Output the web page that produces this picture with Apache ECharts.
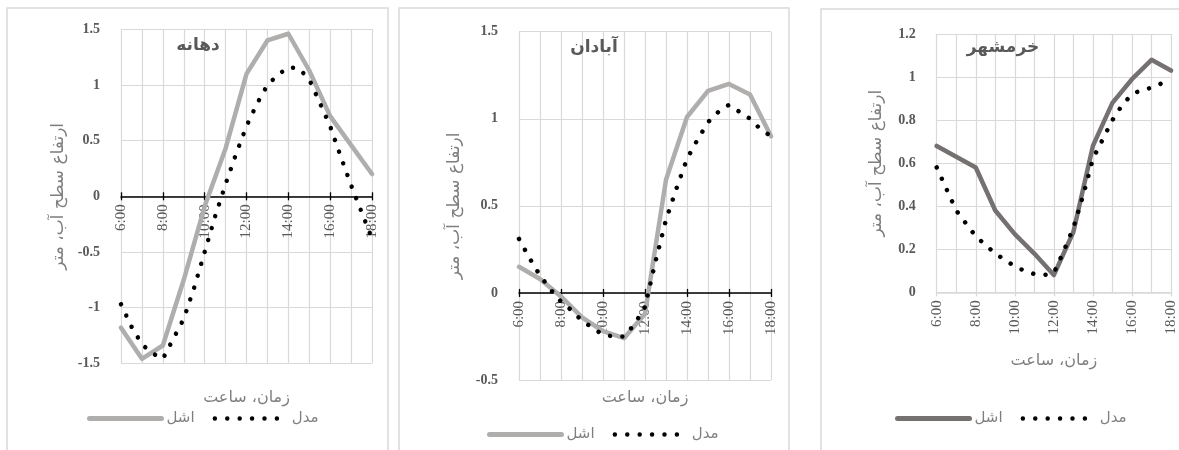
<!DOCTYPE html>
<html>
<head>
<meta charset="utf-8">
<script src="https://cdn.jsdelivr.net/npm/echarts@6/dist/echarts.min.js"></script>
<style>
  html, body { margin: 0; padding: 0; background: #fff; overflow: hidden; }
  #chart { width: 1179px; height: 450px; }
</style>
</head>
<body>
<div id="chart"></div>
<script>
// Hours of the day (gauge readings hourly, model output every half hour)
const obsHours = [6, 7, 8, 9, 10, 11, 12, 13, 14, 15, 16, 17, 18];
const modelHours = [6, 6.5, 7, 7.5, 8, 8.5, 9, 9.5, 10, 10.5, 11, 11.5, 12,
                    12.5, 13, 13.5, 14, 14.5, 15, 15.5, 16, 16.5, 17, 17.5, 18];
const xTickHours = [6, 8, 10, 12, 14, 16, 18];
const xTickLabels = ['6:00', '8:00', '10:00', '12:00', '14:00', '16:00', '18:00'];

const stationNames = ['دهانه', 'آبادان', 'خرمشهر'];
const seriesNames = ['اشل', 'مدل'];
const xAxisTitle = 'زمان، ساعت';
const yAxisTitle = 'ارتفاع سطح آب، متر';

// Water level (m) – station دهانه
const dahanehObs = [-1.18, -1.46, -1.34, -0.75, -0.09, 0.43, 1.10, 1.40, 1.46, 1.13, 0.72, 0.46, 0.20];
const dahanehModel = [-0.97, -1.17, -1.33, -1.41, -1.46, -1.28, -1.10, -0.82, -0.50, -0.18, 0.11, 0.38, 0.63,
                      0.83, 1.00, 1.09, 1.16, 1.15, 1.05, 0.84, 0.63, 0.36, 0.10, -0.14, -0.38];

// Water level (m) – station آبادان
const abadanObs = [0.15, 0.08, -0.02, -0.14, -0.22, -0.26, -0.12, 0.65, 1.01, 1.16, 1.20, 1.14, 0.90];
const abadanModel = [0.31, 0.20, 0.10, 0.02, -0.05, -0.10, -0.16, -0.20, -0.24, -0.25, -0.25, -0.18, -0.08,
                     0.18, 0.42, 0.60, 0.77, 0.88, 0.98, 1.04, 1.08, 1.04, 1.00, 0.94, 0.90];

// Water level (m) – station خرمشهر
const khorramObs = [0.68, 0.63, 0.58, 0.38, 0.27, 0.18, 0.08, 0.28, 0.68, 0.88, 0.99, 1.08, 1.03];
const khorramModel = [0.58, 0.48, 0.38, 0.32, 0.26, 0.22, 0.18, 0.15, 0.12, 0.10, 0.085, 0.08, 0.09,
                      0.19, 0.30, 0.45, 0.62, 0.71, 0.80, 0.87, 0.92, 0.94, 0.95, 0.97, 0.98];

const pair = (xs, ys) => xs.map((x, i) => [x, ys[i]]);

const ARABIC_FONT = "'DejaVu Sans', sans-serif";
const NUM_FONT = "'Liberation Serif', serif";
const GRID_COLOR = '#d9d9d9';
const TEXT_DARK = '#595959';
const TEXT_GRAY = '#7f7f7f';
const MODEL_DASH = [0.01, 12.4];

const panels = [
  {
    station: stationNames[0], obs: dahanehObs, model: dahanehModel, obsColor: '#b0adad',
    grid: { left: 121, top: 29.3, width: 251, height: 334 },
    y: { min: -1.5, max: 1.5, step: 0.5 }, zeroAxis: true,
    yNameGap: 54, xNameGap: 194,
    title: { left: 193, top: 32 }, legend: { left: 82, top: 406 },
    frame: { x: 7, y: 8, width: 381, height: 470 }
  },
  {
    station: stationNames[1], obs: abadanObs, model: abadanModel, obsColor: '#b0adad',
    grid: { left: 519, top: 31.7, width: 252, height: 348.3 },
    y: { min: -0.5, max: 1.5, step: 0.5 }, zeroAxis: true,
    yNameGap: 56, xNameGap: 97,
    title: { left: 589, top: 34 }, legend: { left: 482, top: 422 },
    frame: { x: 399, y: 8, width: 390, height: 470 }
  },
  {
    station: stationNames[2], obs: khorramObs, model: khorramModel, obsColor: '#767171',
    grid: { left: 936.7, top: 34, width: 234.3, height: 258.3 },
    y: { min: 0, max: 1.2, step: 0.2 }, zeroAxis: false,
    yNameGap: 52, xNameGap: 61,
    title: { left: 998, top: 34 }, legend: { left: 890, top: 406 },
    frame: { x: 821, y: 9, width: 400, height: 470 }
  }
];

const grids = [], xAxes = [], yAxes = [], series = [], titles = [], legends = [], frames = [];

panels.forEach((p, i) => {
  grids.push(Object.assign({ containLabel: false, outerBoundsMode: 'none' }, p.grid));
  const axisColor = p.zeroAxis ? '#000' : GRID_COLOR;
  // distance of the y = 0 line from the bottom and the top edge of the plot
  const span = p.y.max - p.y.min;
  const zeroFromBottom = p.grid.height * (0 - p.y.min) / span;
  const zeroFromTop = p.grid.height * (p.y.max - 0) / span;

  const mainX = xAxes.length;
  xAxes.push({
    type: 'value', gridIndex: i, position: 'bottom', offset: -zeroFromBottom,
    min: 6, max: 18, interval: 2,
    axisLine: { show: true, onZero: false, lineStyle: { color: axisColor, width: 1.5 } },
    axisTick: { show: true, inside: false, length: 4, lineStyle: { color: axisColor, width: 1.3 } },
    axisLabel: {
      rotate: 90, margin: 8, fontFamily: NUM_FONT, fontSize: 15, color: TEXT_DARK,
      formatter: v => { const k = xTickHours.indexOf(v); return k >= 0 ? xTickLabels[k] : ''; }
    },
    splitLine: { show: true, lineStyle: { color: GRID_COLOR, width: 1.2 } },
    minorTick: { show: false, splitNumber: 2 },
    minorSplitLine: { show: true, lineStyle: { color: GRID_COLOR, width: 1.2 } },
    name: xAxisTitle, nameLocation: 'middle', nameGap: p.xNameGap,
    nameTextStyle: { fontFamily: ARABIC_FONT, fontSize: 16, color: TEXT_GRAY }
  });
  if (p.zeroAxis) {
    // upper half of the cross tick marks on the zero line
    xAxes.push({
      type: 'value', gridIndex: i, position: 'top', offset: -zeroFromTop,
      min: 6, max: 18, interval: 2,
      axisLine: { show: false, onZero: false },
      axisTick: { show: true, inside: false, length: 4, lineStyle: { color: '#000', width: 1.3 } },
      axisLabel: { show: false }, splitLine: { show: false }
    });
  }

  yAxes.push({
    type: 'value', gridIndex: i, min: p.y.min, max: p.y.max, interval: p.y.step,
    axisLine: { show: false }, axisTick: { show: false },
    axisLabel: { margin: 21, fontFamily: NUM_FONT, fontWeight: 'bold', fontSize: 14, color: TEXT_DARK },
    splitLine: { show: true, lineStyle: { color: GRID_COLOR, width: 1.2 } },
    name: yAxisTitle, nameLocation: 'middle', nameGap: p.yNameGap,
    nameTextStyle: { fontFamily: ARABIC_FONT, fontSize: 17, color: TEXT_GRAY }
  });

  series.push({
    name: seriesNames[0], type: 'line', xAxisIndex: mainX, yAxisIndex: i,
    data: pair(obsHours, p.obs), symbol: 'none', z: 3,
    itemStyle: { color: p.obsColor },
    lineStyle: { color: p.obsColor, width: 4.5, cap: 'round', join: 'round' }
  });
  series.push({
    name: seriesNames[1], type: 'line', xAxisIndex: mainX, yAxisIndex: i,
    data: pair(modelHours, p.model), symbol: 'none', z: 4,
    itemStyle: { color: '#000' },
    lineStyle: { color: '#000', width: 4.5, type: MODEL_DASH, cap: 'round', join: 'round' }
  });

  titles.push({
    text: p.station, left: p.title.left, top: p.title.top, textAlign: 'center',
    textStyle: { fontFamily: ARABIC_FONT, fontWeight: 'bold', fontSize: 17, color: TEXT_DARK }
  });

  legends.push({
    left: p.legend.left, top: p.legend.top, orient: 'horizontal',
    itemWidth: 72, itemHeight: 14, itemGap: 18,
    textStyle: { fontFamily: ARABIC_FONT, fontSize: 15, color: TEXT_GRAY },
    data: [
      { name: seriesNames[0], itemStyle: { opacity: 0 },
        lineStyle: { color: p.obsColor, width: 5, cap: 'round' } },
      { name: seriesNames[1], itemStyle: { opacity: 0 },
        lineStyle: { color: '#000', width: 4.5, type: MODEL_DASH, cap: 'round' } }
    ],
    selectedMode: false
  });

  frames.push({
    type: 'rect', silent: true, z: 0,
    shape: p.frame,
    style: { fill: 'none', stroke: GRID_COLOR, lineWidth: 1.5 }
  });
});

const chart = echarts.init(document.getElementById('chart'), null, { renderer: 'canvas' });
chart.setOption({
  backgroundColor: '#fff',
  animation: false,
  title: titles,
  legend: legends,
  grid: grids,
  xAxis: xAxes,
  yAxis: yAxes,
  series: series,
  graphic: frames
});
</script>
</body>
</html>
